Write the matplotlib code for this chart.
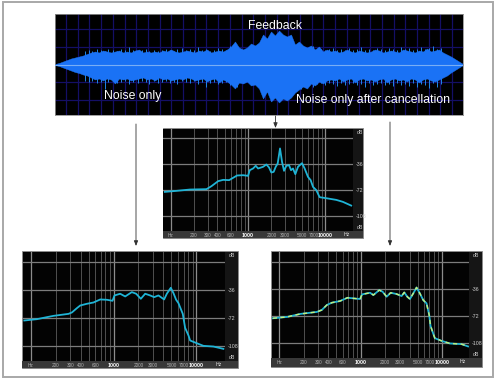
import numpy as np
import matplotlib
matplotlib.use("Agg")
import matplotlib.pyplot as plt
from matplotlib.patches import Rectangle
from matplotlib.ticker import NullLocator

plt.rcParams['font.family'] = ['Liberation Sans', 'DejaVu Sans']

# ---------- data ----------
wave_upper = [0.5,1.5,3,4.5,6,7,8,9,10.5,12,
    13,12,14,13,12,13,14,12,13,12,14,15,12,13,12,13,12,14,13,15,13,12,13,14,13,12,14,13,15,12,13,14,13,15,
    18,23,17,15,17,21,19,22,30,26,33,29,34,30,28,30,20,23,19,17,19,15,18,13,15,
    13,14,12,13,15,13,12,14,13,12,13,15,14,12,13,14,13,12,15,14,13,12,14,13,16,13,14,15,
    12,10,8,5.5,3,0.5]
wave_lower = [0.5,1.5,3,4.5,6,7.5,8.5,10,11,13,
    15,14,16,14,15,19,14,15,14,16,15,14,13,15,14,16,13,15,14,16,15,14,15,13,14,16,15,14,17,15,14,18,15,17,
    20,24,18,19,17,21,20,24,34,27,37,33,38,34,36,33,28,25,22,24,19,21,17,19,16,
    15,16,14,17,15,14,18,15,14,16,15,17,15,14,18,15,14,16,15,17,14,15,18,15,14,16,17,15,
    13,11,8,5.5,3,0.5]

# individual peaks standing out of the envelope
spike_t = [30,34,37,42,46,50,53,58,62,66,70,74,78,83,87,91,94,99,103,107,111,115,119,122,127,131,135,139,143,147,151,155,159,163,167,171,175,178,182,
           234,238,243,246,250,254,258,262,266,270,274,278,282,286,290,294,298,302,306,310,314,318,322,326,330,334,338,342,346,350,354,358,362,366,370,374,378,382,386]
spike_up = [14,15,14,16,15,14,16,15,14,16,15,18,15,14,15,16,14,15,14,15,16,15,14,16,17,15,16,15,18,15,16,14,15,17,16,15,19,17,16,
            21,22,19,20,18,16,19,15,16,15,16,17,15,16,15,17,15,16,18,15,16,15,17,16,15,17,16,15,18,16,17,15,16,18,16,17,19,16,17]
spike_dn = [16,17,16,18,17,24,17,16,18,17,16,19,17,18,16,17,19,16,18,17,16,18,17,19,16,17,18,16,19,17,22,18,17,19,18,17,20,18,22,
            27,26,23,24,21,20,22,19,18,20,18,19,21,18,20,19,18,20,19,22,18,20,19,18,20,19,21,18,20,19,21,18,22,19,20,23,18,22,19]

mid_freq = [84,119,177,290,336,410,476,569,721,861,1000,1050,1160,1256,1346,1562,1724,1866,2000,2144,2275,2414,2587,2746,2915,3124,3381,3589,3808,4080,4416,4977,5383,5945,6437,6900,7617,8407,10250,13800,16800,21500]
mid_db = [-74.3,-72.9,-71.1,-70.6,-66.5,-59.6,-57.8,-58.2,-51.8,-51.4,-52.3,-44.5,-42.2,-38.5,-42.2,-39.9,-36.7,-40.8,-47.7,-46.8,-39.9,-35.3,-14.7,-33,-45.4,-38.5,-37.6,-44.5,-42.2,-50,-39.9,-34.9,-42.2,-53.7,-58.2,-67.4,-72,-81.6,-83,-85.3,-88,-93.1]

left_freq = [84,119,157,189,287,315,362,397,477,574,691,831,973,1028,1203,1383,1663,1875,2135,2408,2765,3090,3483,4075,4393,4906,5283,5689,6067,6842,7300,8017,8395,10090,12140,16030,21140]
left_db = [-75.6,-73.9,-71.3,-69.6,-67,-65.2,-59.6,-56.2,-54,-52.3,-48.4,-48.8,-50.1,-43.2,-41,-44.5,-38.9,-41,-47.5,-41,-43.2,-45.4,-43.2,-48.4,-41,-33.3,-40.2,-48.8,-53.1,-67,-85.1,-95,-101.5,-105,-108.4,-109.3,-112.3]

right_freq = [83,124,180,288,332,383,441,557,686,813,982,1038,1185,1303,1430,1694,1862,2085,2335,2766,3186,3436,3741,4030,4430,4866,5346,5875,6452,6961,7229,8166,9860,12470,17340,20940]
right_db = [-75.5,-73.7,-69.7,-67,-64.4,-57.7,-54.6,-52.4,-48,-48.8,-49.7,-43.5,-42.2,-41.3,-44.4,-37.7,-40,-46.6,-41.3,-43,-45.7,-40.8,-46.6,-49.7,-42.2,-34.2,-42.2,-51.1,-55.5,-71,-85.7,-102.1,-105.7,-109.2,-110.1,-113.2]

grid_freqs = [100,200,300,400,500,600,700,800,900,1000,2000,3000,4000,5000,6000,7000,8000,9000,10000]
grid_labels = ['Hz','200','300','400','','600','','','','1000','2000','3000','','5000','','7000','','','10000']
db_ticks = [0,-36,-72,-108]
db_labels = ['','-36','-72','-108']

W, H = 495, 381
fig = plt.figure(figsize=(W/100, H/100), dpi=100, facecolor='white')

def px_axes(l, t, r, b, **kw):
    return fig.add_axes([l/W, 1-b/H, (r-l)/W, (b-t)/H], **kw)

# page layer in pixel units
page = px_axes(0, 0, W, H)
page.set_xlim(0, W); page.set_ylim(H, 0); page.axis('off')
page.add_patch(Rectangle((2.5, 1.5), 490.5, 375.5, fc='white', ec='#a8a8a8', lw=1.4))

for x, y0, y1 in [(136, 124, 246), (390, 122, 246), (275.5, 115, 128)]:
    page.annotate('', xy=(x, y1), xytext=(x, y0),
                  arrowprops=dict(arrowstyle='-|>,head_width=0.12,head_length=0.3',
                                  color='#303030', lw=0.6, shrinkA=0, shrinkB=0))

# ---------- waveform ----------
ax = px_axes(55, 14, 463, 115, facecolor='black')
t = np.arange(len(wave_upper)) * 4.0
ax.set_xlim(0, 408); ax.set_ylim(-50.5, 50.5)
for v in np.arange(11, 408, 11.7):
    ax.axvline(v, color='#140f66', lw=0.9, zorder=1)
for v in (-35.2, -17.6, 17.6, 35.2):
    ax.axhline(v, color='#140f66', lw=0.9, zorder=1)
ax.vlines(spike_t, -np.array(spike_dn), spike_up, color='#1f86e8', lw=0.7, zorder=2)
ax.fill_between(t, wave_upper, -np.array(wave_lower), color='#1a72f5', lw=0.3, zorder=2)
ax.axhline(0, color='#78aef5', lw=0.8, zorder=3)
ax.set_xticks([]); ax.set_yticks([])
for s in ax.spines.values():
    s.set_color('#909090'); s.set_linewidth(0.6)
ax.text(220, 38.5, 'Feedback', color='white', fontsize=8.8, ha='center', va='center', zorder=5)
ax.text(78, -31.5, 'Noise only', color='white', fontsize=8.8, ha='center', va='center', zorder=5)
ax.text(318, -35.7, 'Noise only after cancellation', color='white', fontsize=8.8, ha='center', va='center', zorder=5)

# ---------- spectra ----------
def spectrum(outer, plot, xlim, ylim, freq, db, overlay=False):
    ol, ot, or_, ob = outer
    pl, pt, pr, pb = plot
    page.add_patch(Rectangle((ol, ot), or_-ol, ob-ot, fc='#151515', ec='#8c8c8c', lw=0.6))
    page.add_patch(Rectangle((ol, pb), or_-ol, ob-pb, fc='#383838', ec='none'))
    a = px_axes(pl, pt, pr, pb, facecolor='#030303')
    a.set_xscale('log')
    a.set_xlim(*xlim); a.set_ylim(ylim[1], ylim[0])
    a.set_xticks(grid_freqs, grid_labels)
    a.xaxis.set_minor_locator(NullLocator())
    a.set_yticks(db_ticks, db_labels)
    a.yaxis.tick_right()
    a.tick_params(axis='x', length=0, pad=1.2, labelsize=3.4, labelcolor='#b0b0b0')
    a.tick_params(axis='y', length=0, pad=2, labelsize=3.8, labelcolor='#d0d0d0')
    for lab in a.get_xticklabels():
        if lab.get_text() in ('1000', '10000'):
            lab.set_color('white'); lab.set_fontweight('bold'); lab.set_fontsize(3.7)
    a.grid(True, axis='x', color='#505050', lw=0.7)
    a.grid(True, axis='y', color='#7c7c7c', lw=0.9)
    for g, f in zip(a.get_xgridlines(), grid_freqs):
        if f in (100, 1000, 10000):
            g.set_color('#8c8c8c'); g.set_linewidth(0.9)
    a.set_axisbelow(True)
    a.plot(freq, db, color='#1fb4d6', lw=1.3, solid_joinstyle='round', zorder=3)
    if overlay:
        a.plot(freq, db, color='#c4f07a', lw=1.0, ls=(0, (3, 2.5)), zorder=4)
    for s in a.spines.values():
        s.set_visible(False)
    a.text(1.018, 1-(0.012), 'dB', transform=a.transAxes, color='#d0d0d0', fontsize=3.8, va='top', ha='left')
    a.text(1.018, 0.005, 'dB', transform=a.transAxes, color='#d0d0d0', fontsize=3.8, va='bottom', ha='left')
    a.text(0.985, -0.012, 'Hz', transform=a.transAxes, color='#e0e0e0', fontsize=3.8, va='top', ha='right')

spectrum((163, 128, 363, 238), (163, 129, 353, 231), (79.5, 22700), (12, -128), mid_freq, mid_db)
spectrum((22, 251, 238, 368), (23, 252, 225, 361), (81, 22100), (13, -128), left_freq, left_db)
spectrum((271, 251, 482, 367), (272, 252, 469, 358), (81, 21500), (13.3, -128.7), right_freq, right_db, overlay=True)

fig.savefig('out.png', dpi=100, facecolor='white')
